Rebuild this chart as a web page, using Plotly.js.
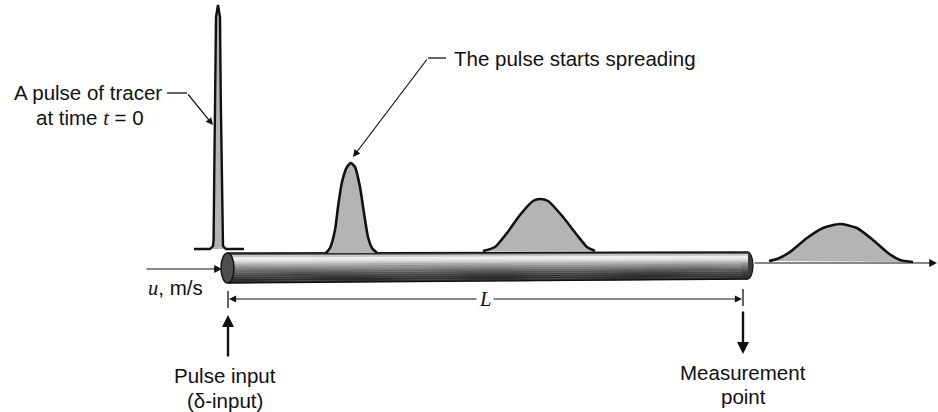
<!DOCTYPE html>
<html>
<head>
<meta charset="utf-8">
<script src="https://cdn.plot.ly/plotly-3.0.1.min.js"></script>
<style>html,body{margin:0;padding:0;background:#fff;}#chart{width:938px;height:412px;}</style>
</head>
<body>
<div id="chart"></div>
<script>
// Pulse profiles (x position along flow, y height; page units, y grows downward)
const spikeX = [194, 210, 213, 213.6, 214.3, 215.2, 216, 218, 220, 220.8, 221.7, 222.4, 223, 226, 244];
const spikeY = [249, 249, 246, 240, 170, 100, 17, 5, 17, 100, 170, 240, 246, 249, 249];

const pulse1X = [326, 330, 335, 338, 342, 347, 351, 355, 360, 364, 368, 372, 377];
const pulse1Y = [253, 248, 230, 207, 182, 167, 163, 167, 187, 213, 237, 248, 253];

const pulse2X = [483, 495, 507, 520, 533, 540, 548, 563, 577, 587, 595];
const pulse2Y = [251, 247, 233, 215, 201, 199, 201, 217, 235, 247, 251];

const pulse3X = [769, 777, 790, 807, 823, 840, 857, 873, 888, 900, 913];
const pulse3Y = [261, 259, 252, 238, 228, 224, 228, 240, 253, 260, 262];

const labelTracer = ["A pulse of tracer", "at time <i style='font-family:Liberation Serif'>t</i> = 0"];
const labelSpread = "The pulse starts spreading";
const labelVelocity = "<i style='font-family:Liberation Serif'>u</i>, m/s";
const labelInput = ["Pulse input", "(δ-input)"];
const labelMeasure = ["Measurement", "point"];
const labelLength = "L";

function pulseTrace(xs, ys) {
  return {
    x: xs, y: ys, type: 'scatter', mode: 'lines', fill: 'toself',
    fillcolor: '#b4b4b4', line: {color: '#111', width: 2.6, shape: 'spline', smoothing: 0.6},
    hoverinfo: 'skip'
  };
}

const traces = [
  Object.assign(pulseTrace(spikeX, spikeY), {line: {color: '#111', width: 2.4}}),
  pulseTrace(pulse1X, pulse1Y),
  pulseTrace(pulse2X, pulse2Y),
  pulseTrace(pulse3X, pulse3Y)
];

// Tube drawing (shaded, slightly tapering cylinder)
const shapes = [];
const tubeL = 228, tubeR = 748;
const topL = 253, botL = 283, topR = 252, botR = 279;
shapes.push({type: 'circle', xref: 'x', yref: 'y', x0: 742, x1: 753, y0: topR, y1: botR,
  fillcolor: '#3a3a3a', line: {color: '#111', width: 1.2}, layer: 'below'});
const shades = ['#5a5a5a', '#c8c8c8', '#efefef', '#e4e4e4', '#cacaca', '#aeaeae', '#949494',
  '#7e7e7e', '#686868', '#555555', '#444444', '#363636', '#2c2c2c', '#303030'];
const n = shades.length;
shades.forEach((c, i) => {
  const a = i / n, b = (i + 1) / n + 0.01;
  const yl0 = topL + a * (botL - topL), yl1 = topL + b * (botL - topL);
  const yr0 = topR + a * (botR - topR), yr1 = topR + b * (botR - topR);
  shapes.push({type: 'path', xref: 'x', yref: 'y',
    path: `M${tubeL},${yl0} L${tubeR},${yr0} L${tubeR},${yr1} L${tubeL},${yl1} Z`,
    fillcolor: c, line: {width: 0}, layer: 'below'});
});
shapes.push({type: 'line', xref: 'x', yref: 'y', x0: tubeL, x1: tubeR, y0: topL, y1: topR,
  line: {color: '#111', width: 1.4}, layer: 'below'});
shapes.push({type: 'line', xref: 'x', yref: 'y', x0: tubeL, x1: tubeR, y0: botL, y1: botR,
  line: {color: '#111', width: 1.4}, layer: 'below'});
shapes.push({type: 'circle', xref: 'x', yref: 'y', x0: 221, x1: 234, y0: topL, y1: botL,
  fillcolor: '#4e4e4e', line: {color: '#111', width: 1.4}, layer: 'below'});
// Dimension ticks
shapes.push({type: 'line', xref: 'x', yref: 'y', x0: 228, x1: 228, y0: 291, y1: 308, line: {color: '#111', width: 1.3}});
shapes.push({type: 'line', xref: 'x', yref: 'y', x0: 743, x1: 743, y0: 289, y1: 306, line: {color: '#111', width: 1.3}});
// Leader line horizontal parts
shapes.push({type: 'line', xref: 'x', yref: 'y', x0: 167, x1: 187, y0: 93, y1: 93, line: {color: '#111', width: 1.3}});
shapes.push({type: 'line', xref: 'x', yref: 'y', x0: 428, x1: 446, y0: 58, y1: 58, line: {color: '#111', width: 1.3}});

const txtFont = {family: 'Liberation Sans, Arial, sans-serif', size: 20.5, color: '#111'};
function arrow(x0, y0, x1, y1, w, size) {
  return {x: x1, y: y1, ax: x0, ay: y0, xref: 'x', yref: 'y', axref: 'x', ayref: 'y',
    text: '', showarrow: true, arrowhead: 2, arrowsize: size || 1.2, arrowwidth: w || 1.2,
    arrowcolor: '#111', standoff: 0, startstandoff: 0};
}
function label(x, y, t, anchor) {
  return {x: x, y: y, xref: 'x', yref: 'y', text: t, showarrow: false,
    xanchor: anchor || 'center', yanchor: 'middle', font: txtFont};
}

const annotations = [
  arrow(145, 269, 222, 269, 1.2, 1.3),
  arrow(753, 263, 937, 263, 1.2, 1.3),
  arrow(187, 93, 213, 125, 1.2, 1.2),
  arrow(428, 58, 353, 157, 1.2, 1.2),
  arrow(480, 299, 229, 299, 1.1, 1.3),
  arrow(490, 299, 742, 299, 1.1, 1.3),
  arrow(228, 358, 228, 315, 2.4, 1.0),
  arrow(743, 310, 743, 354, 2.4, 1.0),
  label(164, 92, labelTracer[0], 'right'),
  label(146, 117, labelTracer[1], 'right'),
  label(452, 58, labelSpread, 'left'),
  label(146, 287, labelVelocity, 'left'),
  label(225, 375, labelInput[0]),
  label(225, 400, labelInput[1]),
  label(743, 372, labelMeasure[0]),
  label(743, 396, labelMeasure[1]),
  Object.assign(label(485, 299, '<i>' + labelLength + '</i>'),
    {font: {family: 'Liberation Serif, Times New Roman, serif', size: 20.5, color: '#111'},
     bgcolor: '#fff', borderpad: 2})
];

const layout = {
  width: 938, height: 412,
  margin: {l: 0, r: 0, t: 0, b: 0},
  paper_bgcolor: '#fff', plot_bgcolor: '#fff',
  showlegend: false,
  xaxis: {range: [0, 938], visible: false, fixedrange: true},
  yaxis: {range: [412, 0], visible: false, fixedrange: true},
  shapes: shapes,
  annotations: annotations
};

Plotly.newPlot('chart', traces, layout, {staticPlot: true, displayModeBar: false});
</script>
</body>
</html>
